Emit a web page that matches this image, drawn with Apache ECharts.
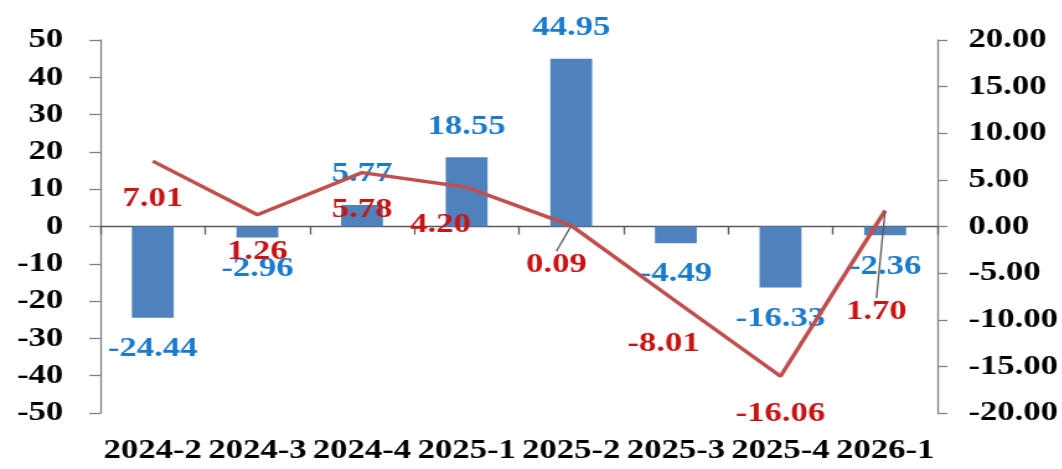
<!DOCTYPE html>
<html>
<head>
<meta charset="utf-8">
<script src="https://cdn.jsdelivr.net/npm/echarts@6/dist/echarts.min.js"></script>
<style>
html,body{margin:0;padding:0;background:#fff;overflow:hidden;}
#wrap{width:1062px;height:469px;overflow:hidden;}
#chart{width:857px;height:469px;transform:scaleX(1.24);transform-origin:0 0;}
</style>
</head>
<body>
<div id="wrap"><div id="chart"></div></div>
<script>
const categories = ['2024-2','2024-3','2024-4','2025-1','2025-2','2025-3','2025-4','2026-1'];
const barValues = [-24.44, -2.96, 5.77, 18.55, 44.95, -4.49, -16.33, -2.36];
const lineValues = [7.01, 1.26, 5.78, 4.20, 0.09, -8.01, -16.06, 1.70];
const leftTicks = {min: -50, max: 50, interval: 10};
const rightTicks = {min: -20, max: 20, interval: 5};

const FONT = 'Liberation Serif';

function draw() {
  const chart = echarts.init(document.getElementById('chart'), null, {renderer: 'canvas'});

  const barData = barValues.map(v => ({
    value: v,
    label: {position: v >= 0 ? 'top' : 'bottom'}
  }));

  // label moves (unscaled px) for specific line labels; guide lines only on some
  const lineLabelMoves = {3: [-21, 0], 4: [-12, 2], 5: [-10, 5], 7: [-7, 64]};
  const guided = [4, 7];
  const lineData = lineValues.map((v, i) => ({
    value: v,
    labelLine: {show: guided.indexOf(i) >= 0}
  }));

  const option = {
    animation: false,
    grid: {left: 81, right: 101, top: 40, bottom: 56, containLabel: false, outerBoundsMode: 'none'},
    xAxis: [
      {
        type: 'category',
        data: categories,
        position: 'bottom',
        axisLine: {show: false, onZero: false},
        axisTick: {show: false},
        axisLabel: {interval: 0, margin: 24, hideOverlap: false, color: '#000',
          fontFamily: FONT, fontWeight: 'bold', fontSize: 28}
      },
      {
        type: 'category',
        data: categories,
        position: 'bottom',
        axisLine: {show: true, onZero: true, lineStyle: {color: '#595959', width: 1.3}},
        axisTick: {show: true, length: 8, alignWithLabel: false, lineStyle: {color: '#595959', width: 1.3}},
        axisLabel: {show: false}
      }
    ],
    yAxis: [
      {
        type: 'value', min: leftTicks.min, max: leftTicks.max, interval: leftTicks.interval,
        splitLine: {show: false},
        axisLine: {show: true, lineStyle: {color: '#808080', width: 1.3}},
        axisTick: {show: true, length: 9, lineStyle: {color: '#808080', width: 1.3}},
        axisLabel: {margin: 30, color: '#000', fontFamily: FONT, fontWeight: 'bold', fontSize: 28}
      },
      {
        type: 'value', min: rightTicks.min, max: rightTicks.max, interval: rightTicks.interval,
        position: 'right',
        splitLine: {show: false},
        axisLine: {show: true, onZero: false, lineStyle: {color: '#808080', width: 1.3}},
        axisTick: {show: true, length: 8, lineStyle: {color: '#808080', width: 1.3}},
        axisLabel: {margin: 25, color: '#000', fontFamily: FONT, fontWeight: 'bold', fontSize: 28,
          formatter: v => v.toFixed(2)}
      }
    ],
    series: [
      {
        type: 'bar',
        xAxisIndex: 0,
        yAxisIndex: 0,
        data: barData,
        barWidth: '40%',
        itemStyle: {color: '#4f81bd'},
        label: {show: true, distance: 17, color: '#1a7acb', fontFamily: FONT, fontWeight: 'bold', fontSize: 28,
          formatter: p => p.value.toFixed(2)}
      },
      {
        type: 'line',
        xAxisIndex: 0,
        yAxisIndex: 1,
        data: lineData,
        symbol: 'circle',
        symbolSize: 1,
        showSymbol: true,
        itemStyle: {color: '#c0504d', opacity: 0},
        lineStyle: {color: '#c0504d', width: 3.5},
        z: 5,
        label: {show: true, position: 'bottom', distance: 23, color: '#c81414', fontFamily: FONT, fontWeight: 'bold', fontSize: 28,
          opacity: 1, formatter: p => p.value.toFixed(2)},
        labelLine: {lineStyle: {color: '#595959', width: 1.3}},
        labelLayout: function (p) {
          const m = lineLabelMoves[p.dataIndex];
          if (!m) return {};
          return {dx: m[0], dy: m[1]};
        }
      }
    ]
  };
  chart.setOption(option);
}

if (document.fonts && document.fonts.load) {
  document.fonts.load('bold 28px "Liberation Serif"').then(draw, draw);
} else {
  draw();
}
</script>
</body>
</html>
